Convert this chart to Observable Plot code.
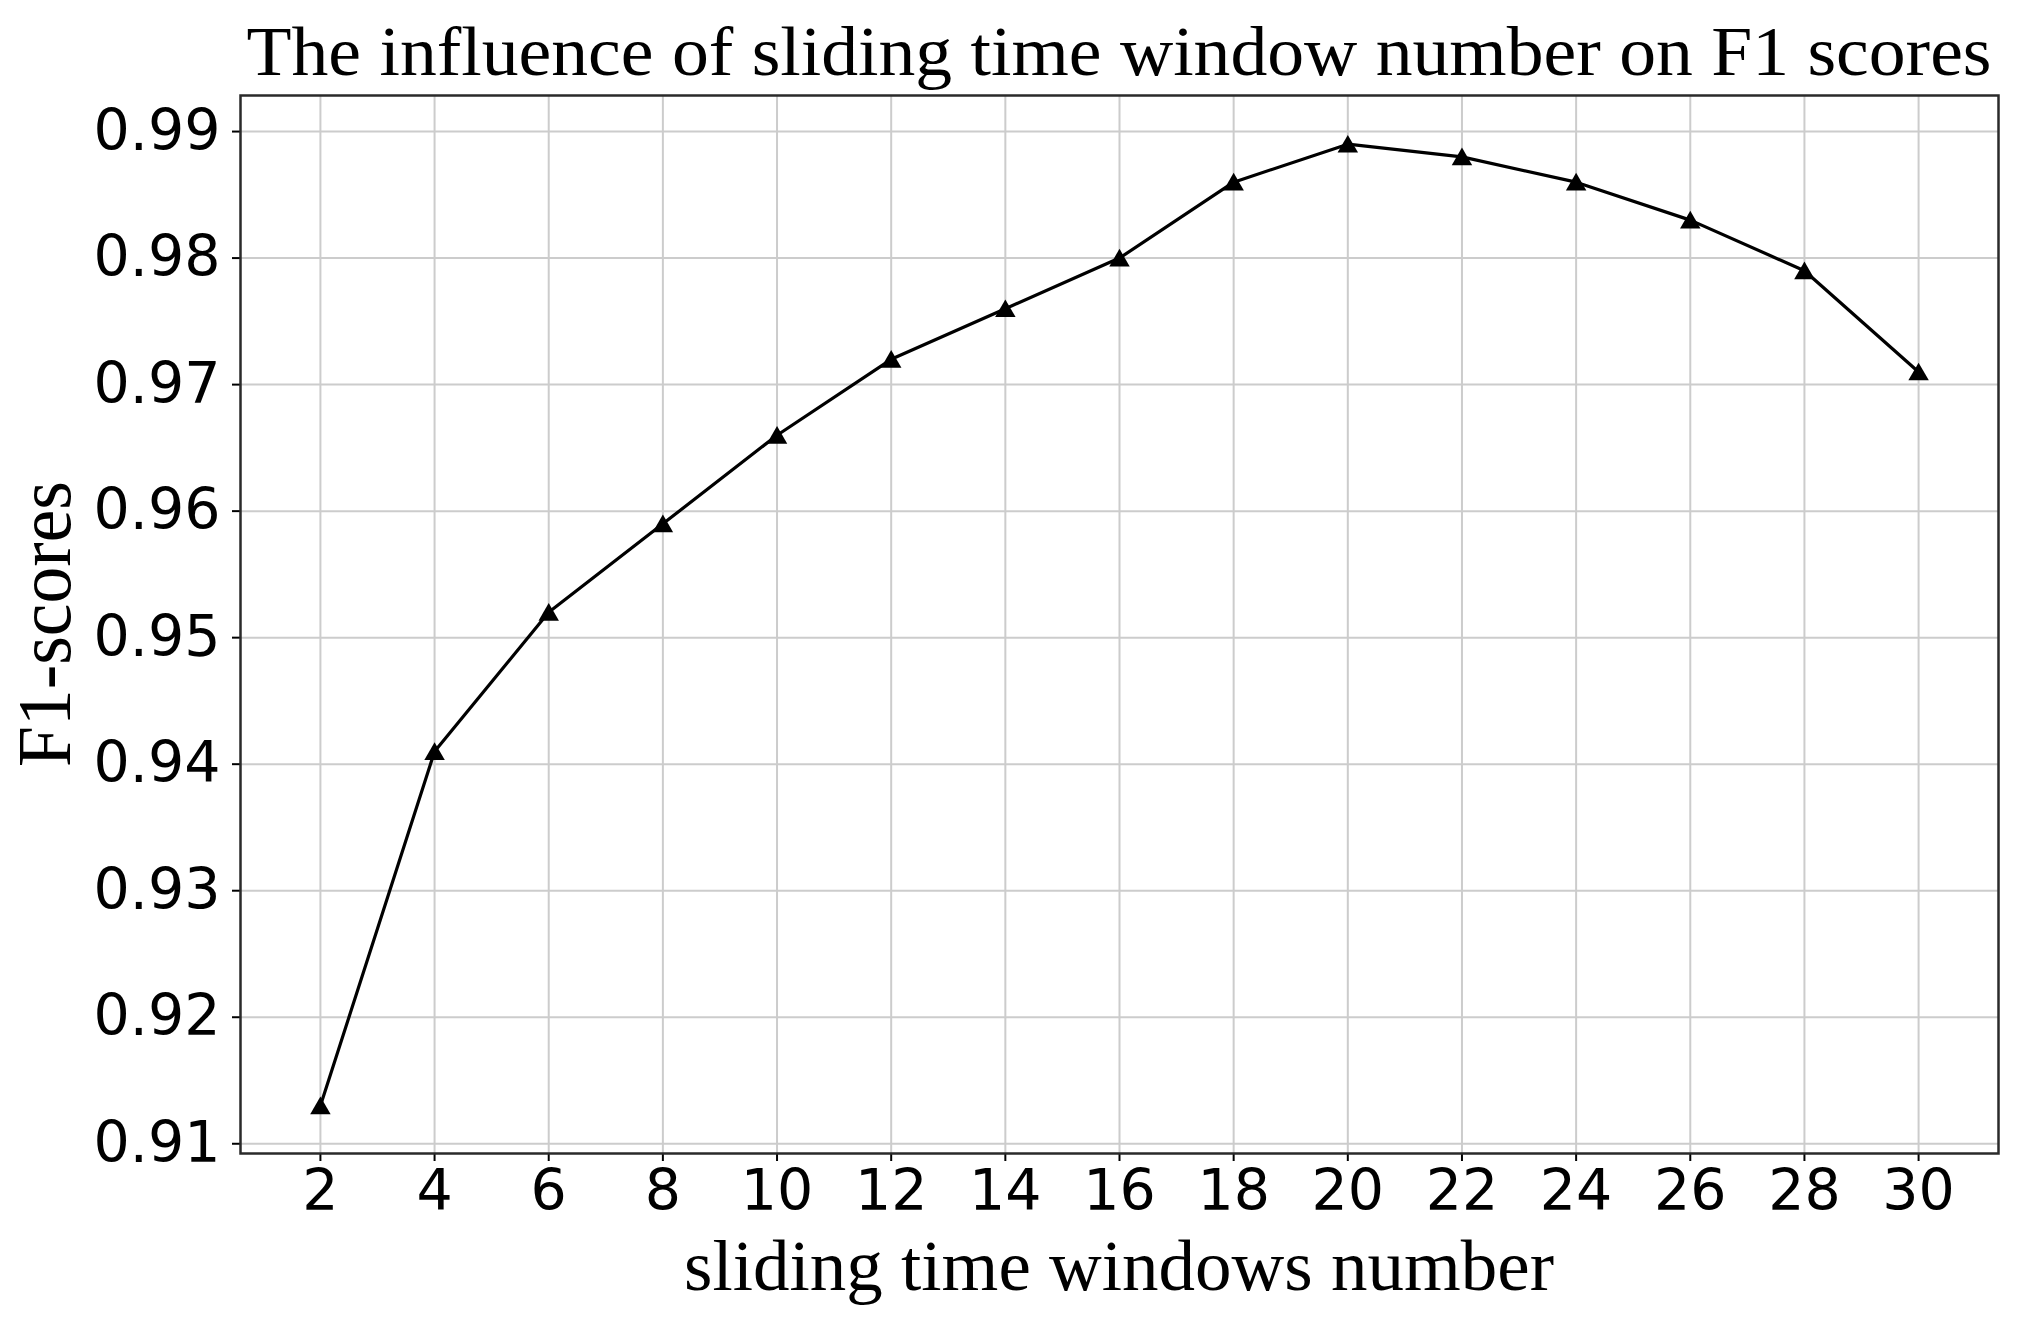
<!DOCTYPE html>
<html>
<head>
<meta charset="utf-8">
<script src="https://cdn.jsdelivr.net/npm/d3@7"></script>
<script src="https://cdn.jsdelivr.net/npm/@observablehq/plot@0.6"></script>
<style>
  html, body { margin: 0; padding: 0; background: #fff; }
  #chart svg { display: block; }
</style>
</head>
<body>
<div id="chart"></div>
<script>
const windowNumbers = [2, 4, 6, 8, 10, 12, 14, 16, 18, 20, 22, 24, 26, 28, 30];
const f1Scores = [0.913, 0.941, 0.952, 0.959, 0.966, 0.972, 0.976, 0.980, 0.986, 0.989, 0.988, 0.986, 0.983, 0.979, 0.971];
const xTicks = [2, 4, 6, 8, 10, 12, 14, 16, 18, 20, 22, 24, 26, 28, 30];
const yTicks = [0.91, 0.92, 0.93, 0.94, 0.95, 0.96, 0.97, 0.98, 0.99];
const titleText = "The influence of sliding time window number on F1 scores";
const xLabelText = "sliding time windows number";
const yLabelText = "F1-scores";

const data = windowNumbers.map((x, i) => ({x, y: f1Scores[i]}));

const W = 2026, H = 1328;
const mL = 240, mR = 28, mT = 95, mB = 175;

const chart = Plot.plot({
  width: W,
  height: H,
  marginLeft: mL,
  marginRight: mR,
  marginTop: mT,
  marginBottom: mB,
  style: {fontFamily: "'DejaVu Sans', sans-serif", fontSize: "57px", color: "#000", background: "#fff", overflow: "visible"},
  x: {domain: [0.6, 31.4]},
  y: {domain: [0.90923, 0.99285]},
  marks: [
    Plot.gridX(xTicks, {stroke: "#cccccc", strokeOpacity: 1, strokeWidth: 2}),
    Plot.gridY(yTicks, {stroke: "#cccccc", strokeOpacity: 1, strokeWidth: 2}),
    Plot.axisX(xTicks, {tickSize: 8, tickPadding: 12, label: null, tickFormat: d => String(d), strokeWidth: 2, lineHeight: 0.9}),
    Plot.axisY(yTicks, {tickSize: 8, tickPadding: 12, label: null, tickFormat: d3.format(".2f"), strokeWidth: 2}),
    Plot.line(data, {x: "x", y: "y", stroke: "#000", strokeWidth: 3.2}),
    Plot.dot(data, {x: "x", y: "y", symbol: "triangle", r: 7.6, fill: "#000", stroke: "none", dy: 2.5}),
    Plot.frame({stroke: "#2a2a2a", strokeWidth: 2.5})
  ]
});

document.getElementById("chart").appendChild(chart);

const svg = d3.select(chart);
const cx = (mL + (W - mR)) / 2;
const cy = (mT + (H - mB)) / 2;
const serif = "'Liberation Serif', 'DejaVu Serif', serif";

svg.append("text")
  .attr("x", cx).attr("y", 75)
  .attr("text-anchor", "middle")
  .attr("font-family", serif)
  .attr("font-size", 70)
  .attr("fill", "#000")
  .attr("textLength", 1745)
  .attr("lengthAdjust", "spacingAndGlyphs")
  .text(titleText);

svg.append("text")
  .attr("x", cx).attr("y", 1290)
  .attr("text-anchor", "middle")
  .attr("font-family", serif)
  .attr("font-size", 72)
  .attr("fill", "#000")
  .attr("textLength", 870)
  .attr("lengthAdjust", "spacingAndGlyphs")
  .text(xLabelText);

svg.append("text")
  .attr("transform", `translate(70,${cy}) rotate(-90)`)
  .attr("text-anchor", "middle")
  .attr("font-family", serif)
  .attr("font-size", 76)
  .attr("fill", "#000")
  .attr("textLength", 286)
  .attr("lengthAdjust", "spacingAndGlyphs")
  .text(yLabelText);
</script>
</body>
</html>
